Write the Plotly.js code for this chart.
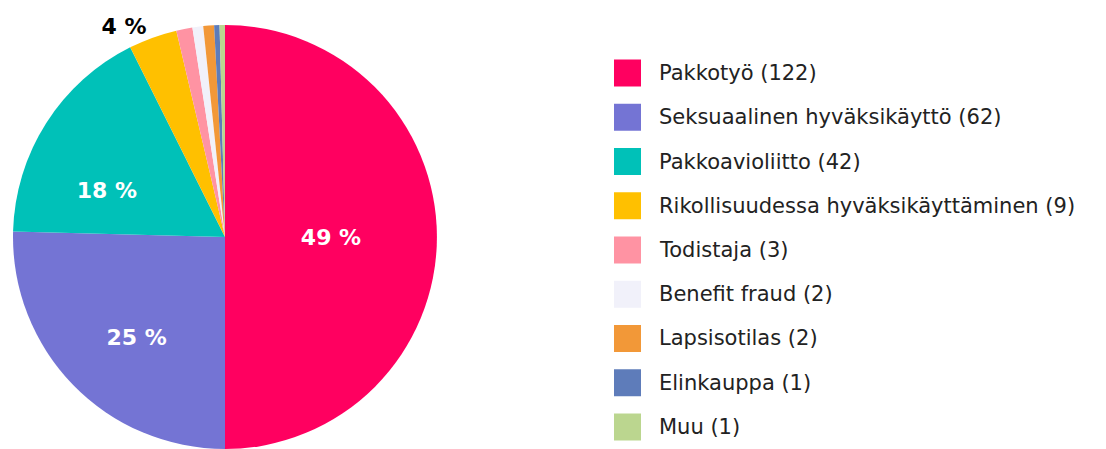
<!DOCTYPE html>
<html>
<head>
<meta charset="utf-8">
<script src="https://cdn.plot.ly/plotly-3.0.1.min.js"></script>
<style>html,body{margin:0;padding:0;background:#fff;}#chart{width:1106px;height:449px;}</style>
</head>
<body>
<div id="chart"></div>
<script>
const categories = ["Pakkotyö", "Seksuaalinen hyväksikäyttö", "Pakkoavioliitto", "Rikollisuudessa hyväksikäyttäminen", "Todistaja", "Benefit fraud", "Lapsisotilas", "Elinkauppa", "Muu"];
const values = [122, 62, 42, 9, 3, 2, 2, 1, 1];
const sliceLabels = ["49 %", "&nbsp;<br>25 %", "&nbsp;<br>&nbsp;<br>18 %", "4 %", "", "", "", "", ""];
const labelPositions = ["inside", "inside", "inside", "outside", "none", "none", "none", "none", "none"];
const labelColors = ["#ffffff", "#ffffff", "#ffffff", "#000000", "#000000", "#000000", "#000000", "#000000", "#000000"];
const colors = ["#FF0060", "#7474D4", "#00C1B8", "#FFC000", "#FF93A3", "#F1F1FA", "#F29838", "#5E7CBA", "#BBD68F"];

const W = 1106, H = 449;
const trace = {
  type: "pie",
  labels: categories,
  values: values,
  text: sliceLabels,
  textinfo: "text",
  texttemplate: "%{text}",
  textposition: labelPositions,
  insidetextorientation: "horizontal",
  textfont: {family: "DejaVu Sans", size: 22, color: labelColors, weight: "bold"},
  marker: {colors: colors, line: {width: 0}},
  sort: false,
  direction: "clockwise",
  rotation: 0,
  showlegend: false,
  hoverinfo: "label+value",
  domain: {x: [12 / W, 438 / W], y: [0, (H - 25) / H]}
};

// Custom legend built from the arrays
const shapes = [];
const annotations = [];
const legTop = 73, legStep = 44.25;
categories.forEach((c, i) => {
  const yc = legTop + i * legStep;
  shapes.push({
    type: "rect", xref: "paper", yref: "paper",
    x0: 614 / W, x1: 641 / W,
    y0: (H - (yc + 13.5)) / H, y1: (H - (yc - 13.5)) / H,
    fillcolor: colors[i], line: {width: 0}
  });
  annotations.push({
    xref: "paper", yref: "paper",
    x: 657 / W, y: (H - yc) / H,
    xanchor: "left", yanchor: "middle",
    text: c + " (" + values[i] + ")",
    showarrow: false,
    font: {family: "DejaVu Sans", size: 21, color: "#222222"}
  });
});

const layout = {
  width: W, height: H,
  margin: {l: 0, r: 0, t: 0, b: 0},
  paper_bgcolor: "#ffffff",
  plot_bgcolor: "#ffffff",
  shapes: shapes,
  annotations: annotations,
  showlegend: false
};

Plotly.newPlot("chart", [trace], layout, {displayModeBar: false, staticPlot: true});
</script>
</body>
</html>
